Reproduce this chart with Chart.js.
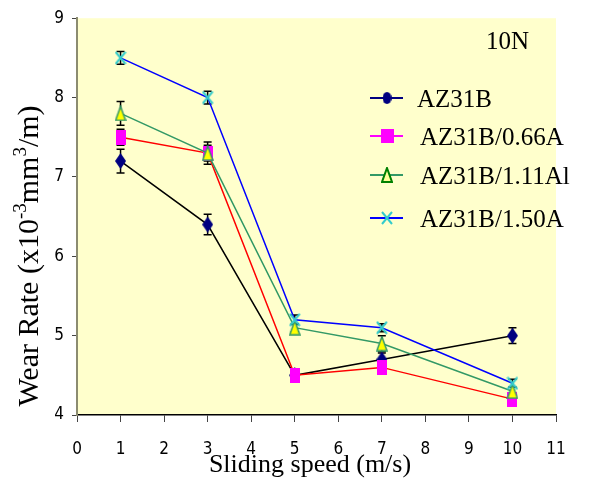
<!DOCTYPE html>
<html>
<head>
<meta charset="utf-8">
<script src="https://cdn.jsdelivr.net/npm/chart.js@4.4.1/dist/chart.umd.min.js"></script>
<style>
  html, body { margin: 0; padding: 0; background: #fff; }
  #wrap { width: 589px; height: 487px; position: relative; }
</style>
</head>
<body>
<div id="wrap"><canvas id="chart"></canvas></div>
<script>
// data
const speeds = [1, 3, 5, 7, 10];
const seriesNames = ['AZ31B', 'AZ31B/0.66A', 'AZ31B/1.11Al', 'AZ31B/1.50A'];
const az31b   = [7.2, 6.4, 4.5, 4.7, 5.0];
const az066   = [7.5, 7.3, 4.5, 4.6, 4.2];
const az111   = [7.8, 7.3, 5.1, 4.9, 4.3];
const az150   = [8.5, 8.0, 5.2, 5.1, 4.4];
const err31b  = [0.15, 0.13, 0.05, 0.08, 0.1];
const err066  = [0.1, 0.1, 0.05, 0.08, 0.05];
const err111  = [0.15, 0.14, 0.05, 0.1, 0.05];
const err150  = [0.08, 0.08, 0.06, 0.05, 0.05];
const xTicks = [0, 1, 2, 3, 4, 5, 6, 7, 8, 9, 10, 11];
const yTicks = [4, 5, 6, 7, 8, 9];

const SERIF = '"Liberation Serif", "DejaVu Serif", serif';
const NARROW = '"Liberation Sans Narrow", "DejaVu Sans Condensed", "Liberation Sans", sans-serif';

function mk(w, h, fn) {
  const c = document.createElement('canvas');
  c.width = w; c.height = h;
  fn(c.getContext('2d'), w, h);
  return c;
}
const diamond = mk(11, 16, (g, w, h) => {
  g.fillStyle = '#000080';
  g.beginPath(); g.moveTo(w / 2, 0); g.lineTo(w, h / 2); g.lineTo(w / 2, h); g.lineTo(0, h / 2); g.closePath(); g.fill();
});
const square = mk(10, 15, (g, w, h) => { g.fillStyle = '#FF00FF'; g.fillRect(0, 0, w, h); });
const triangle = mk(12, 16, (g, w, h) => {
  g.fillStyle = '#FFFF00'; g.strokeStyle = '#339966'; g.lineWidth = 1.5;
  g.beginPath(); g.moveTo(w / 2, 1); g.lineTo(w - 1, h - 1); g.lineTo(1, h - 1); g.closePath(); g.fill(); g.stroke();
});
const cross = mk(12, 14, (g, w, h) => {
  g.strokeStyle = '#33CCCC'; g.lineWidth = 2;
  g.beginPath(); g.moveTo(1, 1); g.lineTo(w - 1, h - 1); g.moveTo(w - 1, 1); g.lineTo(1, h - 1); g.stroke();
});
const legTriangle = mk(12, 16, (g, w, h) => {
  g.fillStyle = '#FFFF99'; g.strokeStyle = '#008000'; g.lineWidth = 2;
  g.beginPath(); g.moveTo(w / 2, 1); g.lineTo(w - 1, h - 1); g.lineTo(1, h - 1); g.closePath(); g.fill(); g.stroke();
});
const legDiamond = mk(9, 12, (g, w, h) => {
  g.fillStyle = '#000080';
  g.beginPath(); g.ellipse(w / 2, h / 2, w / 2, h / 2, 0, 0, Math.PI * 2); g.fill();
});
const legSquare = mk(13, 14, (g, w, h) => { g.fillStyle = '#FF00FF'; g.fillRect(0, 0, w, h); });

const pts = vals => speeds.map((x, i) => ({ x: x, y: vals[i] }));
const errs = [err31b, err066, err111, err150];

const bgPlugin = {
  id: 'bg',
  beforeDraw(chart) {
    const { ctx, chartArea: a } = chart;
    ctx.save();
    ctx.fillStyle = '#FFFFCC';
    ctx.fillRect(a.left, a.top, a.right - a.left, a.bottom - a.top);
    ctx.restore();
  }
};

const errPlugin = {
  id: 'errbars',
  beforeDatasetsDraw(chart) {
    const { ctx, scales: { x, y } } = chart;
    ctx.save();
    ctx.strokeStyle = '#000';
    ctx.lineWidth = 1.5;
    chart.data.datasets.forEach((ds, di) => {
      ds.data.forEach((p, i) => {
        const e = errs[di][i];
        const px = x.getPixelForValue(p.x);
        const y1 = y.getPixelForValue(p.y + e), y2 = y.getPixelForValue(p.y - e);
        ctx.beginPath();
        ctx.moveTo(px, y1); ctx.lineTo(px, y2);
        ctx.moveTo(px - 4, y1); ctx.lineTo(px + 4, y1);
        ctx.moveTo(px - 4, y2); ctx.lineTo(px + 4, y2);
        ctx.stroke();
      });
    });
    ctx.restore();
  }
};

const textPlugin = {
  id: 'texts',
  afterDraw(chart) {
    const { ctx } = chart;
    ctx.save();
    ctx.fillStyle = '#000';
    // 10N label
    ctx.font = '25px ' + SERIF;
    ctx.textBaseline = 'alphabetic';
    ctx.fillText('10N', 486, 49);

    // legend
    const rows = [98, 136, 175, 218];
    const legColors = ['#000080', '#FF00FF', '#339966', '#0000FF'];
    const legMarks = [legDiamond, legSquare, legTriangle, cross];
    rows.forEach((ry, i) => {
      ctx.strokeStyle = legColors[i];
      ctx.lineWidth = 2;
      ctx.beginPath(); ctx.moveTo(370, ry); ctx.lineTo(403, ry); ctx.stroke();
      const m = legMarks[i];
      ctx.drawImage(m, 387 - m.width / 2, ry - m.height / 2);
      ctx.font = '25px ' + SERIF;
      ctx.textBaseline = 'middle';
      ctx.fillText(seriesNames[i], i === 0 ? 417 : 420, ry + 2);
    });

    // x title
    ctx.font = '26px ' + SERIF;
    ctx.textBaseline = 'alphabetic';
    ctx.textAlign = 'center';
    ctx.fillText('Sliding speed (m/s)', 310, 472);

    // y title with superscripts
    ctx.textAlign = 'left';
    const parts = [['Wear Rate (x10', 0], ['-3', 1], ['mm', 0], ['3', 1], ['/m)', 0]];
    const big = '30px ' + SERIF, small = '19px ' + SERIF;
    let total = 0;
    parts.forEach(p => { ctx.font = p[1] ? small : big; total += ctx.measureText(p[0]).width; });
    ctx.translate(38, 256);
    ctx.rotate(-Math.PI / 2);
    let cx = -total / 2;
    parts.forEach(p => {
      ctx.font = p[1] ? small : big;
      ctx.fillText(p[0], cx, p[1] ? -12 : 0);
      cx += ctx.measureText(p[0]).width;
    });
    ctx.restore();
  }
};

new Chart(document.getElementById('chart'), {
  type: 'line',
  data: {
    datasets: [
      { label: seriesNames[0], data: pts(az31b), borderColor: '#000000', borderWidth: 1.5, pointStyle: diamond, order: 3 },
      { label: seriesNames[1], data: pts(az066), borderColor: '#FF0000', borderWidth: 1.5, pointStyle: square, order: 2 },
      { label: seriesNames[2], data: pts(az111), borderColor: '#339966', borderWidth: 1.5, pointStyle: triangle, order: 1 },
      { label: seriesNames[3], data: pts(az150), borderColor: '#0000FF', borderWidth: 1.5, pointStyle: cross, order: 0 }
    ]
  },
  options: {
    responsive: true,
    maintainAspectRatio: false,
    animation: false,
    layout: { padding: { top: 15, right: 33, left: 0, bottom: 0 } },
    plugins: { legend: { display: false }, tooltip: { enabled: false } },
    elements: { line: { tension: 0, fill: false } },
    scales: {
      x: {
        type: 'linear', min: 0, max: 11,
        afterFit: s => { s.height = 72; },
        afterBuildTicks: s => { s.ticks = xTicks.map(v => ({ value: v })); },
        ticks: { color: '#000', font: { family: NARROW, size: 17 }, padding: 17 },
        grid: { drawOnChartArea: false, drawTicks: true, tickLength: 7, color: '#444', lineWidth: 1 },
        border: { color: '#000', width: 1.5 }
      },
      y: {
        min: 4, max: 9,
        afterFit: s => { s.width = 77; },
        afterBuildTicks: s => { s.ticks = yTicks.map(v => ({ value: v })); },
        ticks: { color: '#000', font: { family: NARROW, size: 17 }, padding: 8 },
        grid: { drawOnChartArea: false, drawTicks: true, tickLength: 5, color: '#444', lineWidth: 1 },
        border: { color: '#8C8C70', width: 2 }
      }
    }
  },
  plugins: [bgPlugin, errPlugin, textPlugin]
});
</script>
</body>
</html>
